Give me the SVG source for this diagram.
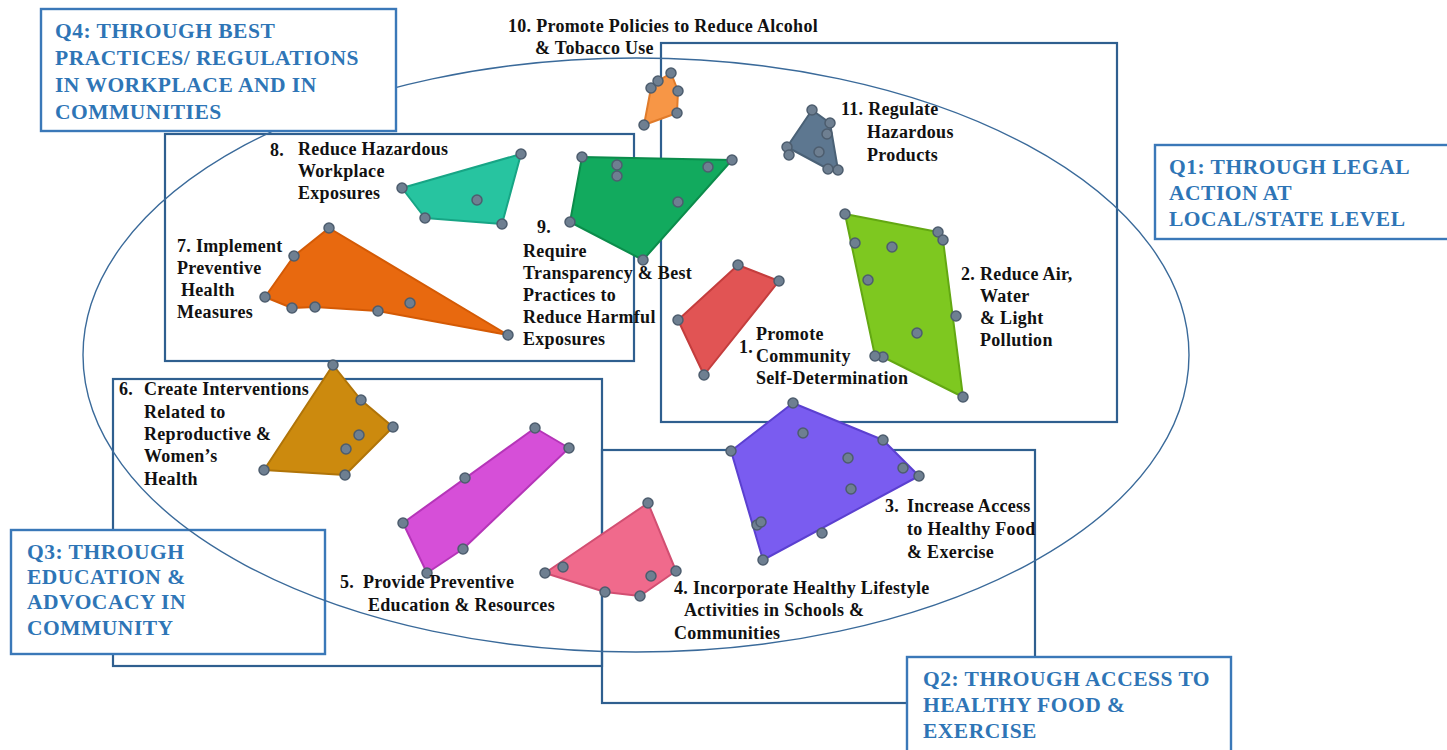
<svg xmlns="http://www.w3.org/2000/svg" width="1447" height="750" viewBox="0 0 1447 750">
<style>
.frame{fill:none;stroke:#2f5f8f;stroke-width:2.2}
.ell{fill:none;stroke:#3a6a9a;stroke-width:1.4}
.qbox{fill:#fff;stroke:#3a78b8;stroke-width:2.4}
.qt{font-family:"Liberation Serif",serif;font-weight:bold;font-size:21.5px;letter-spacing:0.5px;fill:#2e75b6}
.t{font-family:"Liberation Serif",serif;font-weight:bold;font-size:18px;letter-spacing:0.3px;fill:#111}
.dot{fill:#6e7f91;stroke:#4d5d6e;stroke-width:1.5}
.poly{stroke-width:2;stroke-linejoin:round}
</style>
<rect width="1447" height="750" fill="#fff"/>
<g id="connectors">
  <rect class="frame" x="661" y="43" width="456" height="379"/>
  <rect class="frame" x="165" y="134" width="469" height="227"/>
  <rect class="frame" x="113" y="379" width="489" height="287"/>
  <rect class="frame" x="602" y="450" width="433" height="253"/>
  <rect class="qbox" x="11" y="530" width="314" height="124"/>
  <ellipse class="ell" cx="636" cy="355" rx="553" ry="297"/>
</g>
<g id="q4"><rect class="qbox" x="41" y="9" width="355" height="122"/>
<text class="qt"><tspan x="55" y="38">Q4: THROUGH BEST</tspan><tspan x="55" y="65">PRACTICES/ REGULATIONS</tspan><tspan x="55" y="92">IN WORKPLACE AND IN</tspan><tspan x="55" y="119">COMMUNITIES</tspan></text></g>
<g id="q1"><rect class="qbox" x="1155" y="145" width="300" height="94"/>
<text class="qt"><tspan x="1169" y="174">Q1: THROUGH LEGAL</tspan><tspan x="1169" y="200">ACTION AT</tspan><tspan x="1169" y="226">LOCAL/STATE LEVEL</tspan></text></g>
<g id="q3">
<text class="qt"><tspan x="27" y="559">Q3: THROUGH</tspan><tspan x="27" y="584">EDUCATION &amp;</tspan><tspan x="27" y="609">ADVOCACY IN</tspan><tspan x="27" y="635">COMMUNITY</tspan></text></g>
<g id="q2"><rect class="qbox" x="907" y="657" width="324" height="100"/>
<text class="qt"><tspan x="923" y="686">Q2: THROUGH ACCESS TO</tspan><tspan x="923" y="712">HEALTHY FOOD &amp;</tspan><tspan x="923" y="738">EXERCISE</tspan></text></g>

<g id="n10"><polygon class="poly" fill="#f79646" stroke="#e07b2a" points="671,73 678,91 677,113 644,125 651,88 658,81"/>
<circle class="dot" cx="671" cy="73" r="5"/><circle class="dot" cx="678" cy="91" r="5"/><circle class="dot" cx="677" cy="113" r="5"/><circle class="dot" cx="644" cy="125" r="5"/><circle class="dot" cx="651" cy="88" r="5"/><circle class="dot" cx="658" cy="81" r="5"/>
<text class="t"><tspan x="508" y="32">10. Promote Policies to Reduce Alcohol</tspan><tspan x="535" y="54">&amp; Tobacco Use</tspan></text></g>

<g id="n11"><polygon class="poly" fill="#5d7790" stroke="#4a6176" points="812,110 830,123 838,170 828,169 787,147"/>
<circle class="dot" cx="812" cy="110" r="5"/><circle class="dot" cx="830" cy="123" r="5"/><circle class="dot" cx="827" cy="134" r="5"/><circle class="dot" cx="838" cy="170" r="5"/><circle class="dot" cx="828" cy="169" r="5"/><circle class="dot" cx="787" cy="147" r="5"/><circle class="dot" cx="789" cy="155" r="5"/><circle class="dot" cx="819" cy="152" r="5"/>
<text class="t"><tspan x="841" y="115">11. Regulate</tspan><tspan x="867" y="138">Hazardous</tspan><tspan x="867" y="161">Products</tspan></text></g>

<g id="n8"><polygon class="poly" fill="#27c4a0" stroke="#17a585" points="402,188 521,154 502,224 425,218"/>
<circle class="dot" cx="402" cy="188" r="5"/><circle class="dot" cx="521" cy="154" r="5"/><circle class="dot" cx="502" cy="224" r="5"/><circle class="dot" cx="425" cy="218" r="5"/><circle class="dot" cx="477" cy="200" r="5"/>
<text class="t"><tspan x="270" y="156">8.</tspan><tspan x="298" y="155">Reduce Hazardous</tspan><tspan x="298" y="177">Workplace</tspan><tspan x="298" y="199">Exposures</tspan></text></g>

<g id="n9"><polygon class="poly" fill="#12aa5e" stroke="#0b8c4b" points="582,157 732,160 643,260 570,222"/>
<circle class="dot" cx="582" cy="157" r="5"/><circle class="dot" cx="732" cy="160" r="5"/><circle class="dot" cx="643" cy="260" r="5"/><circle class="dot" cx="570" cy="222" r="5"/><circle class="dot" cx="617" cy="165" r="5"/><circle class="dot" cx="617" cy="176" r="5"/><circle class="dot" cx="708" cy="167" r="5"/><circle class="dot" cx="678" cy="202" r="5"/>
<text class="t"><tspan x="537" y="233">9.</tspan><tspan x="523" y="257">Require</tspan><tspan x="523" y="279">Transparency &amp; Best</tspan><tspan x="523" y="301">Practices to</tspan><tspan x="523" y="323">Reduce Harmful</tspan><tspan x="523" y="345">Exposures</tspan></text></g>

<g id="n7"><polygon class="poly" fill="#e8690f" stroke="#d45a05" points="329,228 294,256 265,297 292,308 315,307 378,311 508,335"/>
<circle class="dot" cx="329" cy="228" r="5"/><circle class="dot" cx="294" cy="256" r="5"/><circle class="dot" cx="265" cy="297" r="5"/><circle class="dot" cx="292" cy="308" r="5"/><circle class="dot" cx="315" cy="307" r="5"/><circle class="dot" cx="378" cy="311" r="5"/><circle class="dot" cx="508" cy="335" r="5"/><circle class="dot" cx="410" cy="303" r="5"/>
<text class="t"><tspan x="177" y="252">7. Implement</tspan><tspan x="177" y="274">Preventive</tspan><tspan x="181" y="296">Health</tspan><tspan x="177" y="318">Measures</tspan></text></g>

<g id="n1"><polygon class="poly" fill="#e15454" stroke="#c43d3d" points="738,265 779,281 704,375 678,320"/>
<circle class="dot" cx="738" cy="265" r="5"/><circle class="dot" cx="779" cy="281" r="5"/><circle class="dot" cx="704" cy="375" r="5"/><circle class="dot" cx="678" cy="320" r="5"/>
<text class="t"><tspan x="739" y="353">1.</tspan><tspan x="756" y="340">Promote</tspan><tspan x="756" y="362">Community</tspan><tspan x="756" y="384">Self-Determination</tspan></text></g>

<g id="n2"><polygon class="poly" fill="#7ec820" stroke="#63a812" points="845,214 938,232 943,240 963,397 883,357 875,356"/>
<circle class="dot" cx="845" cy="214" r="5"/><circle class="dot" cx="938" cy="232" r="5"/><circle class="dot" cx="943" cy="240" r="5"/><circle class="dot" cx="956" cy="316" r="5"/><circle class="dot" cx="963" cy="397" r="5"/><circle class="dot" cx="883" cy="357" r="5"/><circle class="dot" cx="875" cy="356" r="5"/><circle class="dot" cx="855" cy="243" r="5"/><circle class="dot" cx="892" cy="247" r="5"/><circle class="dot" cx="868" cy="280" r="5"/><circle class="dot" cx="917" cy="333" r="5"/>
<text class="t"><tspan x="961" y="280">2. Reduce Air,</tspan><tspan x="980" y="302">Water</tspan><tspan x="980" y="324">&amp; Light</tspan><tspan x="980" y="346">Pollution</tspan></text></g>

<g id="n3"><polygon class="poly" fill="#7a5cf0" stroke="#5b40d0" points="793,403 883,440 919,476 763,560 731,451"/>
<circle class="dot" cx="793" cy="403" r="5"/><circle class="dot" cx="883" cy="440" r="5"/><circle class="dot" cx="903" cy="468" r="5"/><circle class="dot" cx="919" cy="476" r="5"/><circle class="dot" cx="763" cy="560" r="5"/><circle class="dot" cx="757" cy="525" r="5"/><circle class="dot" cx="761" cy="522" r="5"/><circle class="dot" cx="731" cy="451" r="5"/><circle class="dot" cx="803" cy="433" r="5"/><circle class="dot" cx="848" cy="458" r="5"/><circle class="dot" cx="851" cy="489" r="5"/><circle class="dot" cx="822" cy="533" r="5"/>
<text class="t"><tspan x="885" y="512">3.</tspan><tspan x="907" y="512">Increase Access</tspan><tspan x="907" y="535">to Healthy Food</tspan><tspan x="907" y="558">&amp; Exercise</tspan></text></g>

<g id="n4"><polygon class="poly" fill="#f06a8c" stroke="#d24f72" points="648,503 676,571 640,596 605,592 545,573"/>
<circle class="dot" cx="648" cy="503" r="5"/><circle class="dot" cx="676" cy="571" r="5"/><circle class="dot" cx="640" cy="596" r="5"/><circle class="dot" cx="605" cy="592" r="5"/><circle class="dot" cx="545" cy="573" r="5"/><circle class="dot" cx="563" cy="567" r="5"/><circle class="dot" cx="651" cy="576" r="5"/>
<text class="t"><tspan x="674" y="594">4. Incorporate Healthy Lifestyle</tspan><tspan x="684" y="616">Activities in Schools &amp;</tspan><tspan x="674" y="639">Communities</tspan></text></g>

<g id="n5"><polygon class="poly" fill="#d64fd8" stroke="#b535b8" points="535,428 569,448 463,549 427,573 403,523"/>
<circle class="dot" cx="535" cy="428" r="5"/><circle class="dot" cx="569" cy="448" r="5"/><circle class="dot" cx="463" cy="549" r="5"/><circle class="dot" cx="427" cy="573" r="5"/><circle class="dot" cx="403" cy="523" r="5"/><circle class="dot" cx="465" cy="478" r="5"/>
<text class="t"><tspan x="340" y="588">5.</tspan><tspan x="363" y="588">Provide Preventive</tspan><tspan x="368" y="611">Education &amp; Resources</tspan></text></g>

<g id="n6"><polygon class="poly" fill="#cc8a0e" stroke="#b07408" points="333,365 361,400 393,427 345,475 264,470"/>
<circle class="dot" cx="333" cy="365" r="5"/><circle class="dot" cx="361" cy="400" r="5"/><circle class="dot" cx="393" cy="427" r="5"/><circle class="dot" cx="359" cy="435" r="5"/><circle class="dot" cx="346" cy="449" r="5"/><circle class="dot" cx="345" cy="475" r="5"/><circle class="dot" cx="264" cy="470" r="5"/>
<text class="t"><tspan x="119" y="395">6.</tspan><tspan x="144" y="395">Create Interventions</tspan><tspan x="144" y="418">Related to</tspan><tspan x="144" y="440">Reproductive &amp;</tspan><tspan x="144" y="462">Women’s</tspan><tspan x="144" y="485">Health</tspan></text></g>
</svg>
